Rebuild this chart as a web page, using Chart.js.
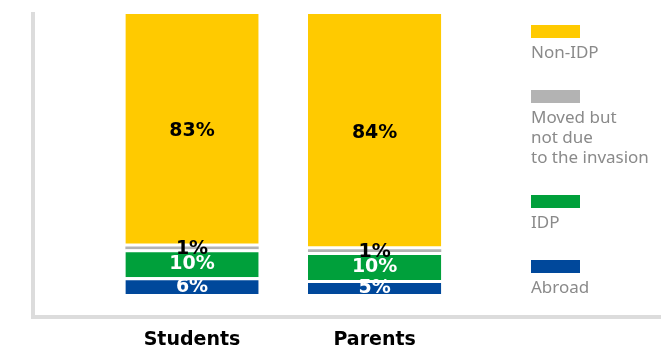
<!DOCTYPE html>
<html>
<head>
<meta charset="utf-8">
<script src="https://cdn.jsdelivr.net/npm/chart.js@4.4.0/dist/chart.umd.min.js"></script>
<style>
  html, body { margin: 0; padding: 0; background: #fff; }
  #wrap { position: relative; width: 664px; height: 348px; }
  #legend { position: absolute; left: 531px; top: 25px; font-family: "Noto Sans", sans-serif; font-size: 17px; line-height: 20px; color: #8a8a8a; }
  .item { margin-bottom: 28px; }
  .swatch { width: 49px; height: 13px; margin-bottom: 4px; }
</style>
</head>
<body>
<div id="wrap">
  <canvas id="chartCanvas" width="664" height="348"></canvas>
  <div id="legend"></div>
</div>
<script>
// groups along the bottom
var categories = ['Students', 'Parents'];

// shares per group, bottom of the stack first
var abroad = [6, 5];
var idp = [10, 10];
var movedOther = [1, 1];
var nonIdp = [83, 84];

var seriesNames = ['Abroad', 'IDP', 'Moved but\nnot due\nto the invasion', 'Non-IDP'];
var seriesColors = ['#00489b', '#00a03b', '#b3b3b3', '#ffca00'];
var labelColors = ['#ffffff', '#ffffff', '#000000', '#000000'];

function toPoints(values) {
    return values.map(function(v, i) { return { x: i + 1, y: v }; });
}

var seriesValues = [abroad, idp, movedOther, nonIdp];
// white gaps between the stacked pieces
var gapBorders = [
    { top: 3, right: 0, bottom: 0, left: 0 },
    { top: 3, right: 0, bottom: 0, left: 0 },
    0,
    { top: 0, right: 0, bottom: 3, left: 0 }
];

var datasets = seriesValues.map(function(values, k) {
    return {
        label: seriesNames[k],
        data: toPoints(values),
        backgroundColor: seriesColors[k],
        borderColor: '#ffffff',
        borderWidth: gapBorders[k],
        borderSkipped: false,
        categoryPercentage: 0.73,
        barPercentage: 1
    };
});

// percentage text in the middle of each piece
var valueLabels = {
    id: 'valueLabels',
    afterDatasetsDraw: function(chart) {
        var c = chart.ctx;
        c.save();
        c.font = 'bold 19px "DejaVu Sans", sans-serif';
        c.textAlign = 'center';
        c.textBaseline = 'middle';
        chart.data.datasets.forEach(function(ds, k) {
            var meta = chart.getDatasetMeta(k);
            meta.data.forEach(function(bar, i) {
                var mid = (bar.y + bar.base) / 2;
                c.fillStyle = labelColors[k];
                c.fillText(seriesValues[k][i] + '%', bar.x, mid + 1);
            });
        });
        c.restore();
    }
};

var ctx = document.getElementById('chartCanvas');
var myChart = new Chart(ctx, {
    type: 'bar',
    data: { datasets: datasets },
    options: {
        responsive: false,
        animation: false,
        layout: { padding: { top: 14, right: 4, bottom: -16, left: 33 } },
        scales: {
            x: {
                type: 'linear',
                stacked: true,
                offset: false,
                min: 0.129,
                max: 3.563,
                grid: { display: false, drawTicks: false },
                border: { display: true, color: '#dcdcdc', width: 4 },
                afterBuildTicks: function(scale) {
                    scale.ticks = categories.map(function(c, i) { return { value: i + 1 }; });
                },
                ticks: {
                    padding: 14,
                    maxRotation: 0,
                    autoSkip: false,
                    color: '#000000',
                    font: { family: '"DejaVu Sans", sans-serif', size: 19, weight: 'bold', lineHeight: 1 },
                    callback: function(value) { return categories[value - 1]; }
                }
            },
            y: {
                stacked: true,
                min: -8.2,
                max: 100,
                grid: { display: false, drawTicks: false },
                border: { display: true, color: '#dcdcdc', width: 4 },
                ticks: { display: false }
            }
        },
        plugins: {
            legend: { display: false },
            tooltip: { enabled: false }
        }
    },
    plugins: [valueLabels]
});

// legend on the right, top of the stack first
var legendBox = document.getElementById('legend');
for (var k = seriesNames.length - 1; k >= 0; k--) {
    var item = document.createElement('div');
    item.className = 'item';
    var swatch = document.createElement('div');
    swatch.className = 'swatch';
    swatch.style.background = seriesColors[k];
    var text = document.createElement('div');
    text.innerHTML = seriesNames[k].split('\n').join('<br>');
    item.appendChild(swatch);
    item.appendChild(text);
    legendBox.appendChild(item);
}
</script>
</body>
</html>
